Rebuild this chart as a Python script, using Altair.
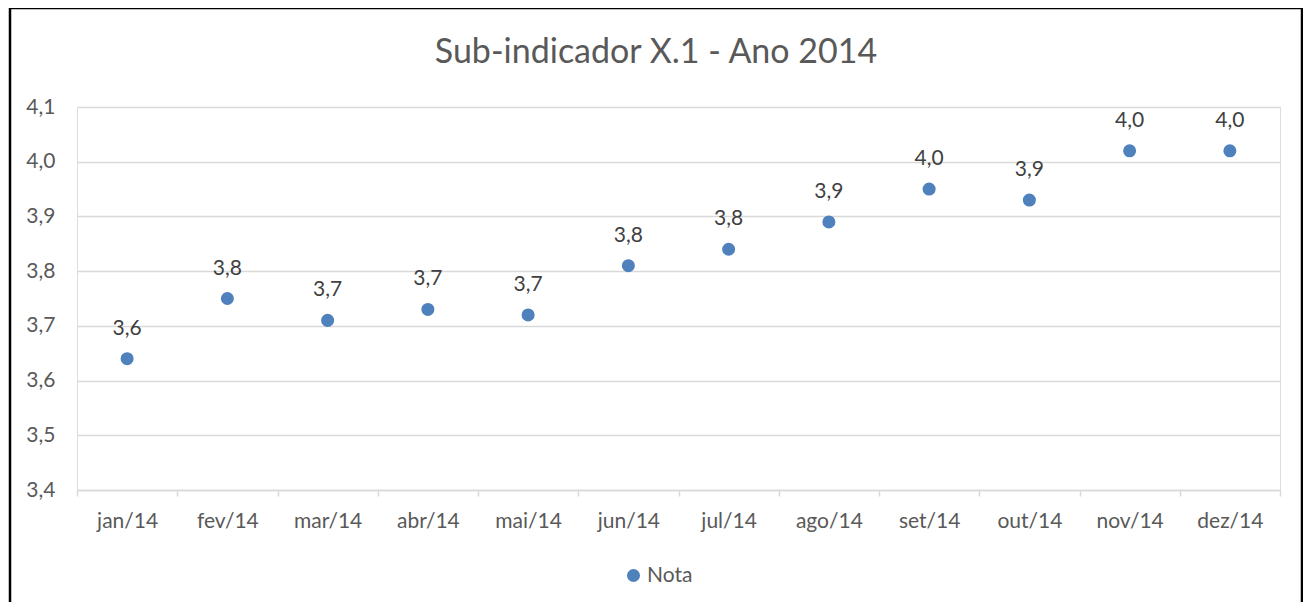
import altair as alt
import pandas as pd

months = ["jan/14", "fev/14", "mar/14", "abr/14", "mai/14", "jun/14",
          "jul/14", "ago/14", "set/14", "out/14", "nov/14", "dez/14"]
values = [3.64, 3.75, 3.71, 3.73, 3.72, 3.81, 3.84, 3.89, 3.95, 3.93, 4.02, 4.02]
labels = ["3,6", "3,8", "3,7", "3,7", "3,7", "3,8", "3,8", "3,9", "4,0", "3,9", "4,0", "4,0"]
y_ticks = [3.4, 3.5, 3.6, 3.7, 3.8, 3.9, 4.0, 4.1]
title_text = "Sub-indicador X.1 - Ano 2014"

df = pd.DataFrame({"mes": months, "valor": values, "rotulo": labels, "serie": "Nota"})

FONT = "Lato"
BLUE = "#4F81BD"

x_enc = alt.X("mes:N", sort=months, title=None,
              scale=alt.Scale(paddingInner=0, paddingOuter=0),
              axis=alt.Axis(labelAngle=0, tickBand="extent", domainColor="#D9D9D9",
                            domainWidth=1.5, tickColor="#D9D9D9", tickWidth=1.5, tickSize=6,
                            labelFontSize=21, labelColor="#595959", labelFont=FONT,
                            labelPadding=14, grid=False))
y_enc = alt.Y("valor:Q", title=None,
              scale=alt.Scale(domain=[3.4, 4.1], nice=False, zero=False),
              axis=alt.Axis(values=y_ticks, format=".1f", domain=False, ticks=False,
                            gridColor="#D9D9D9", gridWidth=1.5, labelFontSize=21,
                            labelColor="#595959", labelFont=FONT, labelPadding=22,
                            labelExpr="replace(format(datum.value, '.1f'), '.', ',')"))

points = alt.Chart(df).mark_circle(size=170, opacity=1).encode(
    x=x_enc, y=y_enc,
    color=alt.Color("serie:N", scale=alt.Scale(range=[BLUE]), title=None,
                    legend=alt.Legend(orient="none", legendX=546, legendY=458,
                                      labelFontSize=21, labelColor="#595959", labelFont=FONT,
                                      symbolSize=170, symbolType="circle", labelOffset=3))
)

text = alt.Chart(df).mark_text(dy=-30, fontSize=21, color="#404040", font=FONT).encode(
    x=alt.X("mes:N", sort=months), y="valor:Q", text="rotulo:N"
)

title = alt.Chart(pd.DataFrame({"t": [title_text]})).mark_text(
    fontSize=34, font=FONT, color="#595959", baseline="middle", align="center"
).encode(x=alt.value(579), y=alt.value(-54), text="t:N")

border = alt.Chart(pd.DataFrame({"a": [0]})).mark_rect(
    fill=None, stroke="black", strokeWidth=2.5
).encode(x=alt.value(-67), x2=alt.value(1225), y=alt.value(-99), y2=alt.value(700))

chart = alt.layer(points, text, title, border).properties(
    width=1203, height=383,
    autosize=alt.AutoSizeParams(type="none"),
    padding={"left": 69, "top": 99, "right": 23, "bottom": 112},
).configure_view(stroke=None).configure(background="white")

chart.save("out.html", embed_options={"renderer": "svg", "actions": False})
